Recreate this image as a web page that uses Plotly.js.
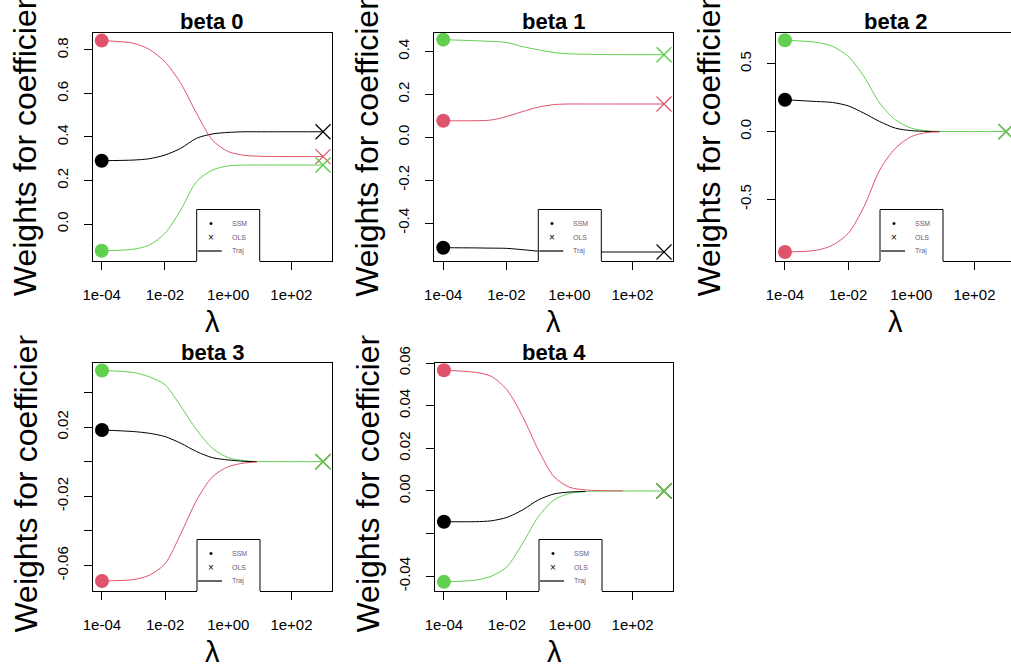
<!DOCTYPE html>
<html><head><meta charset="utf-8">
<script src="https://cdn.plot.ly/plotly-3.0.1.min.js"></script>
<style>html,body{margin:0;padding:0;background:#fff;}#chart{width:1011px;height:668px;}</style>
</head><body><div id="chart"></div>
<script>
// lambda grid (shared by all panels)
const lambda = [1e-4, 1e-3, 3.16e-3, 1e-2, 3.16e-2, 0.1, 0.316, 1, 3.16, 7.94, 50, 1000];
const olsLambda = 1000;
const panelTitles = ["beta 0", "beta 1", "beta 2", "beta 3", "beta 4"];
const xTickVals = [1e-4, 1e-2, 1, 100];
const xTickText = ["1e-04", "1e-02", "1e+00", "1e+02"];
const legendLabels = ["SSM", "OLS", "Traj"];
const yAxisLabel = "Weights for coefficients";
const xAxisLabel = "λ";

// trajectories: black, red, green for each coefficient
const beta0Black = [0.291, 0.294, 0.300, 0.317, 0.348, 0.394, 0.414, 0.421, 0.424, 0.424, 0.424, 0.424];
const beta0Red   = [0.843, 0.831, 0.803, 0.746, 0.647, 0.509, 0.386, 0.333, 0.316, 0.312, 0.310, 0.310];
const beta0Green = [-0.123, -0.116, -0.097, -0.043, 0.064, 0.195, 0.248, 0.267, 0.271, 0.271, 0.271, 0.271];
const beta0Ols   = [0.424, 0.310, 0.271];

const beta1Black = [-0.515, -0.516, -0.517, -0.518, -0.524, -0.531, -0.534, -0.535, -0.535, -0.535, -0.535, -0.535];
const beta1Red   = [0.077, 0.077, 0.080, 0.096, 0.119, 0.140, 0.152, 0.155, 0.155, 0.155, 0.155, 0.155];
const beta1Green = [0.455, 0.450, 0.447, 0.442, 0.423, 0.408, 0.395, 0.389, 0.387, 0.386, 0.385, 0.385];
const beta1Ols   = [-0.535, 0.155, 0.385];

const beta2Black = [0.235, 0.222, 0.215, 0.190, 0.136, 0.074, 0.025, 0.007, 0.001, 0.0, null, null];
const beta2Red   = [-0.889, -0.877, -0.840, -0.753, -0.556, -0.284, -0.123, -0.037, -0.007, -0.002, null, null];
const beta2Green = [0.674, 0.659, 0.630, 0.556, 0.407, 0.210, 0.086, 0.025, 0.005, 0.001, 0.0, 0.0];
const beta2Ols   = [0, 0, 0];

const beta3Black = [0.0183, 0.0174, 0.0164, 0.0145, 0.0106, 0.0058, 0.0023, 0.0010, 0.0002, 0.0, null, null];
const beta3Red   = [-0.0689, -0.0681, -0.0656, -0.0589, -0.0415, -0.0222, -0.0087, -0.0029, -0.0008, -0.0002, null, null];
const beta3Green = [0.0527, 0.0515, 0.0490, 0.0444, 0.0319, 0.0183, 0.0077, 0.0023, 0.0006, 0.0001, 0.0, 0.0];
const beta3Ols   = [0, 0, 0];

const beta4Black = [-0.0144, -0.0144, -0.0140, -0.0124, -0.0089, -0.0042, -0.0014, -0.0005, -0.0002, null, null, null];
const beta4Red   = [0.0566, 0.0556, 0.0538, 0.0475, 0.0350, 0.0193, 0.0067, 0.0017, 0.0005, 0.0002, 0.0, null];
const beta4Green = [-0.0426, -0.0418, -0.0400, -0.0356, -0.0246, -0.0121, -0.0042, -0.0011, -0.0003, -0.0001, 0.0, 0.0];
const beta4Ols   = [0, 0, 0];

// y tick values / labels per panel
const yTickVals = [
  [0, 0.2, 0.4, 0.6, 0.8],
  [-0.4, -0.2, 0, 0.2, 0.4],
  [-0.5, 0, 0.5],
  [-0.06, -0.04, -0.02, 0, 0.02, 0.04],
  [-0.04, -0.02, 0, 0.02, 0.04, 0.06]
];
const yTickText = [
  ["0.0", "0.2", "0.4", "0.6", "0.8"],
  ["-0.4", "-0.2", "0.0", "0.2", "0.4"],
  ["-0.5", "0.0", "0.5"],
  ["-0.06", "", "-0.02", "", "0.02", ""],
  ["-0.04", "", "0.00", "0.02", "0.04", "0.06"]
];

const panelSeries = [
  [beta0Black, beta0Red, beta0Green, beta0Ols],
  [beta1Black, beta1Red, beta1Green, beta1Ols],
  [beta2Black, beta2Red, beta2Green, beta2Ols],
  [beta3Black, beta3Red, beta3Green, beta3Ols],
  [beta4Black, beta4Red, beta4Green, beta4Ols]
];

// ---------- layout geometry (pixels) ----------
const W = 1011, H = 668;
const boxes = [
  {l: 92.7, t: 33, r: 332, b: 261, lab: -15.5},
  {l: 434.3, t: 33, r: 673, b: 261, lab: -15.5},
  {l: 776, t: 33, r: 1015, b: 261, lab: -15.5},
  {l: 93, t: 363, r: 332, b: 591, lab: -9.5},
  {l: 435, t: 363, r: 673, b: 591, lab: -9.5}
];
const yRanges = [[-0.170, 0.878], [-0.577, 0.486], [-0.956, 0.728], [-0.0747, 0.0570], [-0.0469, 0.0600]];
const xLogRange = [-4.284, 3.284];
const colors = ["#000000", "#DF536B", "#61D04F"];
const FONT = "Liberation Sans, Arial, Helvetica, sans-serif";
const px = x => x / W;
const py = y => 1 - y / H;

const traces = [];
const layout = {
  width: W, height: H,
  margin: {l: 0, r: 0, t: 0, b: 0},
  paper_bgcolor: "#fff", plot_bgcolor: "#fff",
  showlegend: false, hovermode: false,
  annotations: [], shapes: []
};

boxes.forEach((bx, i) => {
  const n = i + 1;
  const xa = "x" + (n === 1 ? "" : n), ya = "y" + (n === 1 ? "" : n);
  const right = Math.min(bx.r, W);
  const decW = (bx.r - bx.l) / (xLogRange[1] - xLogRange[0]);
  const xr = [xLogRange[0], xLogRange[0] + (right - bx.l) / decW];
  const clipped = bx.r > W;
  layout["xaxis" + (n === 1 ? "" : n)] = {
    domain: [px(bx.l), px(right)], anchor: ya, type: "log", range: xr,
    tickvals: xTickVals, ticktext: xTickText, ticks: "outside", ticklen: 8, tickwidth: 1, tickcolor: "#000",
    showline: true, mirror: true, linecolor: "#000", linewidth: 1,
    showgrid: false, zeroline: false, ticklabelstandoff: 12,
    tickfont: {family: FONT, size: 15, color: "#000"}
  };
  layout["yaxis" + (n === 1 ? "" : n)] = {
    domain: [py(bx.b), py(bx.t)], anchor: xa, range: yRanges[i],
    tickvals: yTickVals[i], ticktext: yTickText[i], ticks: "outside", ticklen: 8, tickwidth: 1, tickcolor: "#000",
    showline: true, mirror: !clipped, linecolor: "#000", linewidth: 1,
    showgrid: false, zeroline: false, tickangle: -90, ticklabelstandoff: 10,
    tickfont: {family: FONT, size: 15, color: "#000"}
  };

  const [blk, red, grn, ols] = panelSeries[i];
  const lines = [[grn, colors[2]], [blk, colors[0]], [red, colors[1]]];
  lines.forEach(([vals, c]) => {
    traces.push({x: lambda, y: vals, xaxis: xa, yaxis: ya, type: "scatter", mode: "lines",
      line: {color: c, width: 1, shape: "spline", smoothing: 0.8}});
  });
  // SSM start points and OLS crosses
  [blk, red, grn].forEach((vals, k) => {
    traces.push({x: [lambda[0]], y: [vals[0]], xaxis: xa, yaxis: ya, type: "scatter", mode: "markers",
      marker: {symbol: "circle", size: 14, color: colors[k]}});
  });
  ols.forEach((v, k) => {
    const wdt = k === 2 ? 1.5 : 1.2;
    traces.push({x: [olsLambda], y: [v], xaxis: xa, yaxis: ya, type: "scatter", mode: "markers",
      marker: {symbol: "x-thin-open", size: 15, color: colors[k], line: {color: colors[k], width: wdt}}});
  });

  const cx = (bx.l + bx.r) / 2;
  // title
  layout.annotations.push({xref: "paper", yref: "paper", x: px(cx), y: py(bx.t - 11), text: "<b>" + panelTitles[i] + "</b>",
    showarrow: false, xanchor: "center", yanchor: "middle", font: {family: FONT, size: 22, color: "#000"}});
  // x label
  layout.annotations.push({xref: "paper", yref: "paper", x: px(cx), y: py(bx.b + 61), text: xAxisLabel,
    showarrow: false, xanchor: "center", yanchor: "middle", font: {family: FONT, size: 29, color: "#000"}});
  // y label
  layout.annotations.push({xref: "paper", yref: "paper", x: px(bx.l - 68), y: py((bx.t + bx.b) / 2 + bx.lab), text: yAxisLabel,
    textangle: -90, showarrow: false, xanchor: "center", yanchor: "middle", font: {family: FONT, size: 32, color: "#000"}});

  // legend box
  const L0 = bx.l + 104, L1 = bx.l + 167, T0 = bx.t + 176.5;
  layout.shapes.push({type: "rect", xref: "paper", yref: "paper", x0: px(L0), x1: px(L1), y0: py(bx.b + 9), y1: py(T0),
    fillcolor: "#fff", line: {width: 0}, layer: "above"});
  [[L0, T0, L0, bx.b], [L0, T0, L1, T0], [L1, T0, L1, bx.b]].forEach(s => {
    layout.shapes.push({type: "line", xref: "paper", yref: "paper", x0: px(s[0]), y0: py(s[1]), x1: px(s[2]), y1: py(s[3]),
      line: {color: "#000", width: 1}, layer: "above"});
  });
  layout.shapes.push({type: "line", xref: "paper", yref: "paper", x0: px(bx.l + 105), x1: px(bx.l + 129),
    y0: py(bx.t + 218), y1: py(bx.t + 218), line: {color: "#000", width: 1.2}, layer: "above"});
  layout.annotations.push({xref: "paper", yref: "paper", x: px(bx.l + 118), y: py(bx.t + 190), text: "•",
    showarrow: false, xanchor: "center", yanchor: "middle", font: {family: FONT, size: 11, color: "#000"}});
  layout.annotations.push({xref: "paper", yref: "paper", x: px(bx.l + 118), y: py(bx.t + 204), text: "×",
    showarrow: false, xanchor: "center", yanchor: "middle", font: {family: FONT, size: 10, color: "#000"}});
  legendLabels.forEach((t, k) => {
    layout.annotations.push({xref: "paper", yref: "paper", x: px(bx.l + 137), y: py(bx.t + 190 + 14 * k), text: t,
      showarrow: false, xanchor: "left", yanchor: "middle", font: {family: FONT, size: 7, color: "#6a5a7a"}});
  });
});

// the lower-row figure regions clip their y labels at the row boundary, as in the reference
layout.annotations.push({xref: "paper", yref: "paper", x: 0, y: py(298), xanchor: "left", yanchor: "top",
  text: " ", width: 60, height: 35.5, bgcolor: "#fff", borderpad: 0, showarrow: false});
layout.annotations.push({xref: "paper", yref: "paper", x: px(342), y: py(298), xanchor: "left", yanchor: "top",
  text: " ", width: 60, height: 35.5, bgcolor: "#fff", borderpad: 0, showarrow: false});

Plotly.newPlot("chart", traces, layout, {staticPlot: true, displayModeBar: false});
</script>
</body></html>
